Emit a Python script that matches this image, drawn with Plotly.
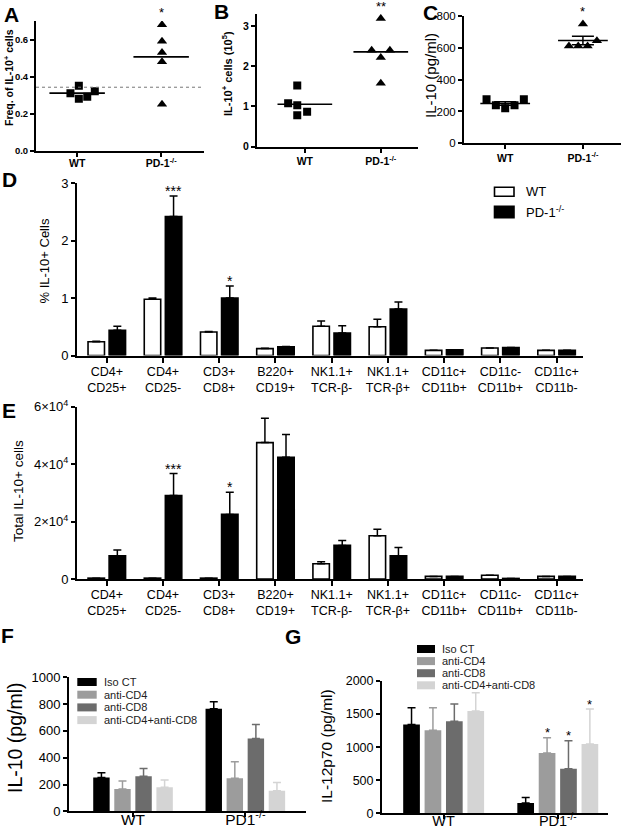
import numpy as np
import plotly.graph_objects as go

# ---------------- data ----------------
groups_abc = ["WT", "PD-1<sup>-/-</sup>"]
a_wt = [0.31, 0.35, 0.28, 0.29, 0.32]
a_pd = [0.68, 0.59, 0.53, 0.48, 0.25]
a_threshold = 0.342
a_sig = "*"
b_wt = [1.08, 1.52, 1.03, 0.78, 0.87]
b_pd = [3.19, 2.40, 2.40, 2.22, 1.58]
b_sig = "**"
c_wt = [277, 239, 220, 239, 277]
c_pd = [750, 645, 612, 612, 612]
c_sig = "*"

cell_types = ["CD4+<br>CD25+", "CD4+<br>CD25-", "CD3+<br>CD8+", "B220+<br>CD19+",
              "NK1.1+<br>TCR-β-", "NK1.1+<br>TCR-β+", "CD11c+<br>CD11b+",
              "CD11c-<br>CD11b+", "CD11c+<br>CD11b-"]
d_wt = [0.24, 0.98, 0.41, 0.12, 0.51, 0.50, 0.09, 0.13, 0.09]
d_wt_sem = [0.01, 0.02, 0.01, 0.005, 0.09, 0.13, 0.0, 0.0, 0.0]
d_pd = [0.44, 2.42, 1.00, 0.15, 0.39, 0.81, 0.10, 0.14, 0.09]
d_pd_sem = [0.07, 0.36, 0.21, 0.005, 0.13, 0.12, 0.0, 0.0, 0.0]
d_sig = ["", "***", "*", "", "", "", "", "", ""]

e_wt = [300, 300, 300, 47500, 5300, 15050, 900, 1300, 900]
e_wt_sem = [0, 0, 0, 8500, 700, 2300, 0, 0, 0]
e_pd = [8100, 29100, 22500, 42400, 11700, 8100, 900, 200, 900]
e_pd_sem = [2000, 7600, 7700, 7900, 1700, 2900, 0, 0, 0]
e_sig = ["", "***", "*", "", "", "", "", "", ""]

groups_fg = ["WT", "PD1<sup>-/-</sup>"]
treatments = ["Iso CT", "anti-CD4", "anti-CD8", "anti-CD4+anti-CD8"]
f_iso = [253, 765]
f_iso_sem = [35, 52]
f_cd4 = [166, 246]
f_cd4_sem = [60, 124]
f_cd8 = [261, 544]
f_cd8_sem = [59, 104]
f_combo = [179, 154]
f_combo_sem = [54, 60]

g_iso = [1344, 156]
g_iso_sem = [252, 81]
g_cd4 = [1254, 911]
g_cd4_sem = [342, 232]
g_cd8 = [1390, 675]
g_cd8_sem = [261, 423]
g_combo = [1546, 1047]
g_combo_sem = [277, 529]
g_sig_iso = ["", ""]
g_sig_cd4 = ["", "*"]
g_sig_cd8 = ["", "*"]
g_sig_combo = ["", "*"]

# ---------------- styles / layout helpers ----------------
W, H = 622, 833
FONT = "Liberation Sans, Arial, Helvetica, sans-serif"
treat_colors = ["#000000", "#9c9c9c", "#6c6c6c", "#d4d4d4"]
BARGAP, BARGROUPGAP = 0.25, 0.22

# panel boxes in pixels: (x-axis id, y-axis id, left, right, top, bottom)
PANELS = {
    "A": ("x", "y", 36, 204, 21, 150.5),
    "B": ("x2", "y2", 257, 418, 14, 146.7),
    "C": ("x3", "y3", 464, 621, 16, 143.3),
    "D": ("x4", "y4", 77, 583, 183.3, 355.5),
    "E": ("x5", "y5", 77, 583, 406.7, 579),
    "F": ("x6", "y6", 69, 306, 677.3, 811.3),
    "G": ("x7", "y7", 382, 608, 681, 813.3),
}


def fx(p):
    return p / W


def fy(p):
    return 1 - p / H


def dom(panel):
    _, _, l, r, t, b = PANELS[panel]
    return [fx(l), fx(r)], [fy(b), fy(t)]


def slot_offset(k, n):
    span = 1 - BARGAP
    return -span / 2 + (k + 0.5) * span / n


# column-scatter horizontal spread (layout only)
a_wt_dx = [-0.08, 0.02, 0.02, 0.12, 0.21]
a_pd_dx = [0.01, 0.01, 0.01, 0.01, 0.01]
b_wt_dx = [-0.22, -0.10, -0.10, -0.10, 0.03]
b_pd_dx = [0.0, -0.12, 0.12, 0.0, 0.0]
c_wt_dx = [-0.24, -0.12, 0.0, 0.12, 0.24]
c_pd_dx = [0.0, 0.18, -0.18, -0.06, 0.06]

fig = go.Figure()

# ---------- A, B, C : column scatter ----------
scatter_panels = [
    ("x", "y", a_wt, a_pd, a_wt_dx, a_pd_dx, 0.33, False),
    ("x2", "y2", b_wt, b_pd, b_wt_dx, b_pd_dx, 0.36, False),
    ("x3", "y3", c_wt, c_pd, c_wt_dx, c_pd_dx, 0.32, True),
]
for xa, ya, wt, pd_, wdx, pdx, half, with_sem in scatter_panels:
    fig.add_trace(go.Scatter(x=[0 + d for d in wdx], y=wt, mode="markers", xaxis=xa, yaxis=ya,
                             marker=dict(symbol="square", size=8, color="black"),
                             showlegend=False, hoverinfo="skip"))
    fig.add_trace(go.Scatter(x=[1 + d for d in pdx], y=pd_, mode="markers", xaxis=xa, yaxis=ya,
                             marker=dict(symbol="triangle-up", size=9, color="black"),
                             showlegend=False, hoverinfo="skip"))
    for i, vals in enumerate([wt, pd_]):
        m = float(np.mean(vals))
        fig.add_trace(go.Scatter(x=[i - half, i + half], y=[m, m], mode="lines", xaxis=xa, yaxis=ya,
                                 line=dict(color="black", width=1.6), showlegend=False,
                                 hoverinfo="skip"))
    if with_sem:
        means = [float(np.mean(wt)), float(np.mean(pd_))]
        sems = [float(np.std(wt, ddof=1) / np.sqrt(len(wt))),
                float(np.std(pd_, ddof=1) / np.sqrt(len(pd_)))]
        fig.add_trace(go.Scatter(x=[0, 1], y=means, mode="markers", xaxis=xa, yaxis=ya,
                                 marker=dict(size=1, color="rgba(0,0,0,0)"),
                                 error_y=dict(type="data", array=sems, symmetric=True,
                                              color="black", thickness=1.5, width=11),
                                 showlegend=False, hoverinfo="skip"))

# ---------- D, E : grouped bars ----------
for xa, ya, wt, wsem, pdv, psem in [("x4", "y4", d_wt, d_wt_sem, d_pd, d_pd_sem),
                                    ("x5", "y5", e_wt, e_wt_sem, e_pd, e_pd_sem)]:
    xs = list(range(len(cell_types)))
    fig.add_trace(go.Bar(x=xs, y=wt, xaxis=xa, yaxis=ya, name="WT",
                         marker=dict(color="white", line=dict(color="black", width=1.6)),
                         error_y=dict(type="data", array=wsem, arrayminus=[0] * len(wsem),
                                      symmetric=False, color="black", thickness=1.5, width=4),
                         showlegend=False, hoverinfo="skip"))
    fig.add_trace(go.Bar(x=xs, y=pdv, xaxis=xa, yaxis=ya, name="PD-1-/-",
                         marker=dict(color="black", line=dict(color="black", width=1.6)),
                         error_y=dict(type="data", array=psem, arrayminus=[0] * len(psem),
                                      symmetric=False, color="black", thickness=1.5, width=4),
                         showlegend=False, hoverinfo="skip"))

# ---------- F, G : grouped bars, 4 treatments ----------
f_series = [(f_iso, f_iso_sem), (f_cd4, f_cd4_sem), (f_cd8, f_cd8_sem), (f_combo, f_combo_sem)]
g_series = [(g_iso, g_iso_sem), (g_cd4, g_cd4_sem), (g_cd8, g_cd8_sem), (g_combo, g_combo_sem)]
for xa, ya, series in [("x6", "y6", f_series), ("x7", "y7", g_series)]:
    for k, (vals, sem) in enumerate(series):
        fig.add_trace(go.Bar(x=[0, 1], y=vals, xaxis=xa, yaxis=ya, name=treatments[k],
                             marker=dict(color=treat_colors[k], line=dict(width=0)),
                             error_y=dict(type="data", array=sem, arrayminus=[0, 0],
                                          symmetric=False, color=treat_colors[k],
                                          thickness=1.5, width=4),
                             showlegend=False, hoverinfo="skip"))

# ---------------- axes ----------------
base = dict(showline=True, linecolor="black", linewidth=2, ticks="outside", tickcolor="black",
            tickwidth=1.5, showgrid=False, zeroline=False, fixedrange=True, automargin=False)
bold_x = dict(family=FONT, size=10.5, color="black", weight="bold")
bold_y = dict(family=FONT, size=9.5, color="black", weight="bold")


def reg(s):
    return dict(family=FONT, size=s, color="black")


dA, dB, dC, dD, dE, dF, dG = (dom(p) for p in "ABCDEFG")
layout_axes = dict(
    xaxis=dict(base, domain=dA[0], range=[-0.49, 1.51], tickvals=[0, 1],
               ticktext=groups_abc, ticklen=4, tickfont=bold_x, anchor="y",
               ticklabelstandoff=-2),
    yaxis=dict(base, domain=dA[1], range=[0, 0.7], tickvals=[0, 0.2, 0.4, 0.6],
               tickformat=".1f", ticklen=4, tickfont=bold_y, anchor="x"),
    xaxis2=dict(base, domain=dB[0], range=[-0.63, 1.49], tickvals=[0, 1],
                ticktext=groups_abc, ticklen=4, tickfont=bold_x, anchor="y2"),
    yaxis2=dict(base, domain=dB[1], range=[0, 3.3], tickvals=[0, 1, 2, 3],
                ticklen=4, tickfont=dict(bold_y, size=10.5), anchor="x2"),
    xaxis3=dict(base, domain=dC[0], range=[-0.53, 1.49], tickvals=[0, 1],
                ticktext=groups_abc, ticklen=4, tickfont=bold_x, anchor="y3"),
    yaxis3=dict(base, domain=dC[1], range=[0, 800],
                tickvals=[0, 200, 400, 600, 800], ticklen=4, tickfont=reg(11.5), anchor="x3"),
    xaxis4=dict(base, domain=dD[0], range=[-0.53, 8.47],
                tickvals=list(range(len(cell_types))), ticktext=cell_types, ticklen=5,
                tickfont=reg(12.5), anchor="y4", ticklabelstandoff=-2),
    yaxis4=dict(base, domain=dD[1], range=[0, 3], tickvals=[0, 1, 2, 3],
                ticklen=4, tickfont=reg(13), anchor="x4"),
    xaxis5=dict(base, domain=dE[0], range=[-0.53, 8.47],
                tickvals=list(range(len(cell_types))), ticktext=cell_types, ticklen=5,
                tickfont=reg(12.5), anchor="y5", ticklabelstandoff=-2),
    yaxis5=dict(base, domain=dE[1], range=[0, 60000],
                tickvals=[0, 20000, 40000, 60000],
                ticktext=["0", "2×10<sup>4</sup>", "4×10<sup>4</sup>", "6×10<sup>4</sup>"],
                ticklen=4, tickfont=reg(13), anchor="x5"),
    xaxis6=dict(base, domain=dF[0], range=[-0.57, 1.54], tickvals=[0, 1],
                ticktext=groups_fg, ticklen=4, tickfont=reg(15.5), anchor="y6",
                ticklabelstandoff=-11),
    yaxis6=dict(base, domain=dF[1], range=[0, 1000],
                tickvals=[0, 200, 400, 600, 800, 1000], ticklen=4, tickfont=reg(13),
                anchor="x6"),
    xaxis7=dict(base, domain=dG[0], range=[-0.54, 1.44], tickvals=[0, 1],
                ticktext=groups_fg, ticklen=4, tickfont=reg(14.5), anchor="y7",
                ticklabelstandoff=-11),
    yaxis7=dict(base, domain=dG[1], range=[0, 2000],
                tickvals=[0, 500, 1000, 1500, 2000], ticklen=4, tickfont=reg(12.5),
                anchor="x7"),
)

# ---------------- annotations ----------------
ann = []


def panel_text(panel, text, x, y, size, bold=False, angle=0, left=False, color="black"):
    """Text placed at pixel position (x, y), expressed relative to a panel's axis domain."""
    xa, ya, l, r, t, b = PANELS[panel]
    ann.append(dict(text=("<b>%s</b>" % text) if bold else text,
                    x=(x - l) / (r - l), y=(b - y) / (b - t),
                    xref=xa + " domain", yref=ya + " domain", showarrow=False,
                    xanchor="left" if left else "center", yanchor="middle", textangle=angle,
                    font=dict(family=FONT, size=size, color=color)))


# panel letters
for letter, x, y in [("A", 11.5, 14.5), ("B", 221.5, 11.5), ("C", 430, 13), ("D", 9, 180),
                     ("E", 9, 410), ("F", 7.5, 635), ("G", 293, 636.5)]:
    panel_text(letter, letter, x, y, 21, bold=True)

# y titles
panel_text("A", "Freq. of IL-10<sup>+</sup> cells", 8, 78, 10.5, bold=True, angle=-90)
panel_text("B", "IL-10<sup>+</sup> cells (10<sup>5</sup>)", 227, 74, 11, bold=True, angle=-90)
panel_text("C", "IL-10 (pg/ml)", 431, 76, 15, angle=-90)
panel_text("D", "% IL-10+ Cells", 44, 261.5, 13, angle=-90)
panel_text("E", "Total IL-10+ cells", 18, 491, 13.5, angle=-90)
panel_text("F", "IL-10 (pg/ml)", 15, 737, 19.5, angle=-90)
panel_text("G", "IL-12p70 (pg/ml)", 326, 746, 15.5, angle=-90)

# significance stars, A-C (above highest point)
for xa, ya, vals, sig in [("x", "y", a_pd, a_sig), ("x2", "y2", b_pd, b_sig),
                          ("x3", "y3", c_pd, c_sig)]:
    ann.append(dict(text=sig, x=1, y=max(vals), xref=xa, yref=ya, showarrow=False,
                    xanchor="center", yanchor="middle", yshift=12,
                    font=dict(family=FONT, size=13, color="black")))

# significance stars, D-E
for xa, ya, vals, sem, sigs in [("x4", "y4", d_pd, d_pd_sem, d_sig),
                                ("x5", "y5", e_pd, e_pd_sem, e_sig)]:
    for i, s in enumerate(sigs):
        if s:
            ann.append(dict(text=s, x=i + slot_offset(1, 2), y=vals[i] + sem[i], xref=xa,
                            yref=ya, showarrow=False, xanchor="center", yanchor="middle",
                            yshift=5, font=dict(family=FONT, size=14, color="black")))

# significance stars, G
for k, ((vals, sem), sigs) in enumerate(zip(g_series, [g_sig_iso, g_sig_cd4, g_sig_cd8,
                                                        g_sig_combo])):
    for i, s in enumerate(sigs):
        if s:
            ann.append(dict(text=s, x=i + slot_offset(k, 4), y=vals[i] + sem[i], xref="x7",
                            yref="y7", showarrow=False, xanchor="center", yanchor="middle",
                            yshift=5, font=dict(family=FONT, size=13, color="black")))

# ---------------- legends (manual, GraphPad style) ----------------
shapes = [dict(type="line", xref="x domain", yref="y", x0=0, x1=1, y0=a_threshold,
               y1=a_threshold, line=dict(color="#777777", width=1, dash="dot"))]


def legend_box(x0, x1, yc, h, fill, outline=None):
    shapes.append(dict(type="rect", xref="paper", yref="paper", x0=fx(x0), x1=fx(x1),
                       y0=fy(yc + h / 2), y1=fy(yc - h / 2), fillcolor=fill,
                       line=dict(color=outline or fill, width=1.6 if outline else 0)))


legend_box(494.5, 514, 191.7, 9, "white", "black")
legend_box(494.5, 514, 212, 11.5, "black", "black")
panel_text("D", "WT", 524, 191.7, 13, left=True)
panel_text("D", "PD-1<sup>-/-</sup>", 524, 212, 13, left=True)

for k, name in enumerate(treatments):
    yc = 682 + k * 12.7
    legend_box(77.3, 96.7, yc, 8, treat_colors[k])
    panel_text("F", name, 102, yc, 11, left=True, color="#222222")
for k, name in enumerate(treatments):
    yc = 649 + k * 12.1
    legend_box(417, 435, yc, 8, treat_colors[k])
    panel_text("G", name, 440, yc, 11, left=True, color="#222222")

fig.update_layout(
    width=W, height=H, margin=dict(l=0, r=0, t=0, b=0, autoexpand=False),
    paper_bgcolor="white", plot_bgcolor="white",
    font=dict(family=FONT, color="black"),
    barmode="group", bargap=BARGAP, bargroupgap=BARGROUPGAP,
    showlegend=False, annotations=ann, shapes=shapes,
    **layout_axes,
)

fig.write_html("out.html", config={"displayModeBar": False},
               post_script="document.body.style.margin='0';document.body.style.overflow='hidden';")
